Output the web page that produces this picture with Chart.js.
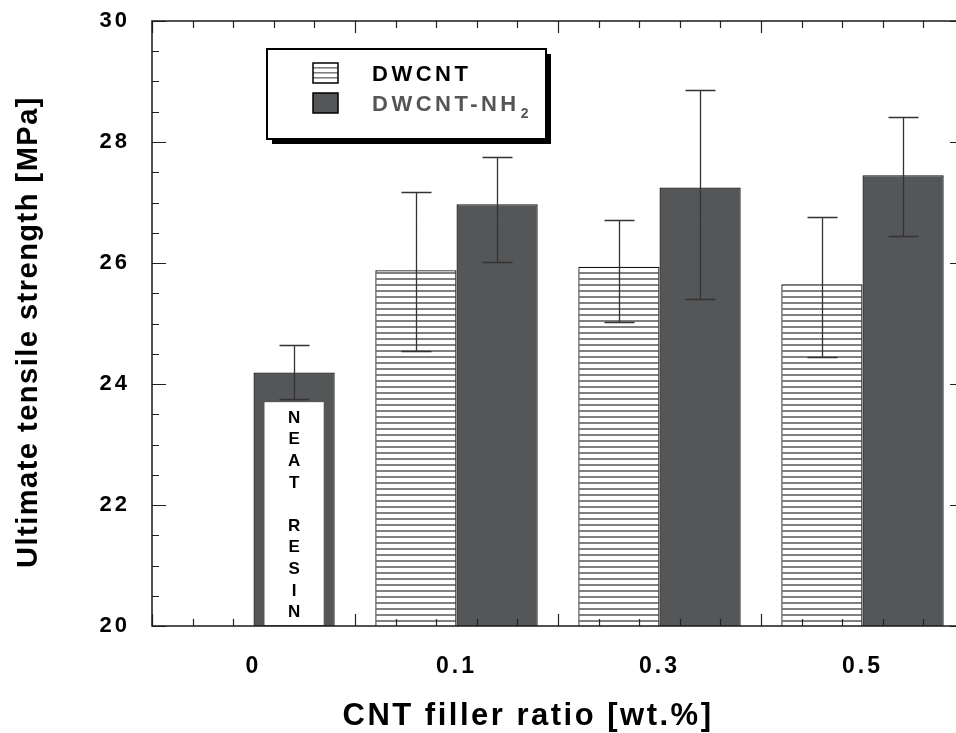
<!DOCTYPE html>
<html>
<head>
<meta charset="utf-8">
<title>Ultimate tensile strength</title>
<script src="https://cdn.jsdelivr.net/npm/chart.js@4.4.1/dist/chart.umd.min.js"></script>
<style>
  html, body { margin: 0; padding: 0; background: #fff; overflow: hidden; }
  #wrap { width: 956px; height: 733px; overflow: hidden; position: relative; }
  canvas { display: block; }
</style>
</head>
<body>
<div id="wrap"><canvas id="utsChart" width="970" height="733"></canvas></div>
<script>
// ===== Data =====
const fillerRatio = ['0', '0.1', '0.3', '0.5'];

const dwcnt      = [null, 25.88, 25.94, 25.65];
const dwcntLow   = [null, 24.55, 25.02, 24.45];
const dwcntHigh  = [null, 27.17, 26.71, 26.76];

// first value is the neat resin bar
const dwcntNH2     = [24.19, 26.97, 27.25, 27.45];
const dwcntNH2Low  = [23.76, 26.01, 25.40, 26.44];
const dwcntNH2High = [24.65, 27.76, 28.86, 28.42];

const yTicks = { min: 20, max: 30, step: 2, minor: 0.5 };
const xMinorPerSlot = 5;
const neatBoxTop = 23.7;
const neatText = 'NEAT RESIN';

const FONT = '"Liberation Sans", Arial, sans-serif';
const DARK = '#555658';

function hatchPattern() {
    const c = document.createElement('canvas');
    c.width = 8; c.height = 6;
    const g = c.getContext('2d');
    g.fillStyle = '#fff';
    g.fillRect(0, 0, 8, 6);
    g.fillStyle = '#808080';
    g.fillRect(0, 2, 8, 2);
    return g.createPattern(c, 'repeat');
}

// ticks inside the frame, error bars, neat resin label, legend, axis titles
const decorations = {
    id: 'decorations',
    beforeDraw(chart) {
        chart.ctx.letterSpacing = '3px';
    },
    afterDatasetsDraw(chart) {
        const { ctx, chartArea: a, scales: { x, y } } = chart;
        ctx.save();
        ctx.letterSpacing = '0px';

        // inward tick marks on all four sides
        ctx.strokeStyle = '#222';
        ctx.lineWidth = 1.2;
        ctx.beginPath();
        for (let v = yTicks.min; v <= yTicks.max + 1e-9; v += yTicks.minor) {
            const py = Math.round(y.getPixelForValue(v)) + 0.5;
            const len = Math.abs(v % yTicks.step) < 1e-6 ? 14 : 7;
            ctx.moveTo(a.left, py); ctx.lineTo(a.left + len, py);
            ctx.moveTo(a.right, py); ctx.lineTo(a.right - len, py);
        }
        const pitch = x.getPixelForValue(1) - x.getPixelForValue(0);
        const x0 = x.getPixelForValue(0) - pitch / 2;
        for (let k = 0; k <= fillerRatio.length * xMinorPerSlot; k++) {
            const px = Math.round(x0 + k * pitch / xMinorPerSlot) + 0.5;
            const len = k % xMinorPerSlot === 0 ? 12 : 7;
            ctx.moveTo(px, a.top); ctx.lineTo(px, a.top + len);
            ctx.moveTo(px, a.bottom); ctx.lineTo(px, a.bottom - len);
        }
        ctx.stroke();

        // white label box inside the neat resin bar
        const neat = chart.getDatasetMeta(1).data[0];
        const bTop = y.getPixelForValue(neatBoxTop);
        const bL = neat.x - neat.width / 2 + 11;
        const bR = neat.x + neat.width / 2 - 11;
        ctx.fillStyle = '#fff';
        ctx.fillRect(bL, bTop, bR - bL, a.bottom - 1 - bTop);
        ctx.fillStyle = '#000';
        ctx.font = 'bold 17px ' + FONT;
        ctx.textAlign = 'center';
        ctx.textBaseline = 'middle';
        [...neatText].forEach((ch, i) => {
            if (ch !== ' ') ctx.fillText(ch, neat.x, bTop + 16 + i * 21.6);
        });

        // error bars
        const errs = [[dwcntLow, dwcntHigh], [dwcntNH2Low, dwcntNH2High]];
        ctx.strokeStyle = '#333';
        ctx.lineWidth = 1.3;
        ctx.beginPath();
        errs.forEach(([lo, hi], d) => {
            chart.getDatasetMeta(d).data.forEach((bar, i) => {
                if (lo[i] == null) return;
                const cx = Math.round(bar.x) + 0.5;
                const yl = Math.round(y.getPixelForValue(lo[i])) + 0.5;
                const yh = Math.round(y.getPixelForValue(hi[i])) + 0.5;
                ctx.moveTo(cx, yl); ctx.lineTo(cx, yh);
                ctx.moveTo(cx - 15, yl); ctx.lineTo(cx + 15, yl);
                ctx.moveTo(cx - 15, yh); ctx.lineTo(cx + 15, yh);
            });
        });
        ctx.stroke();

        // frame
        ctx.strokeStyle = '#1a1a1a';
        ctx.lineWidth = 1.5;
        ctx.strokeRect(a.left, a.top, a.right - a.left, a.bottom - a.top);
        ctx.restore();
    },
    afterDraw(chart) {
        const { ctx } = chart;
        ctx.save();

        // legend box with drop shadow
        const L = { x: 267, y: 49, w: 279, h: 90 };
        ctx.fillStyle = '#000';
        ctx.fillRect(L.x + 5, L.y + 5, L.w, L.h);
        ctx.fillStyle = '#fff';
        ctx.fillRect(L.x, L.y, L.w, L.h);
        ctx.strokeStyle = '#000';
        ctx.lineWidth = 2;
        ctx.strokeRect(L.x, L.y, L.w, L.h);

        // swatches
        ctx.lineWidth = 1.5;
        ctx.fillStyle = '#fff';
        ctx.fillRect(313, 63, 25, 20);
        ctx.fillStyle = '#808080';
        [67, 72, 77].forEach(yy => ctx.fillRect(313, yy, 25, 1.6));
        ctx.strokeRect(313, 63, 25, 20);
        ctx.fillStyle = DARK;
        ctx.fillRect(313, 93, 25, 20);
        ctx.strokeRect(313, 93, 25, 20);

        ctx.textAlign = 'left';
        ctx.textBaseline = 'alphabetic';
        ctx.letterSpacing = '3.5px';
        ctx.font = 'bold 22px ' + FONT;
        ctx.fillStyle = '#000';
        ctx.fillText('DWCNT', 372, 81);
        ctx.fillStyle = '#555';
        ctx.fillText('DWCNT-NH', 372, 111);
        const w = ctx.measureText('DWCNT-NH').width;
        ctx.font = 'bold 14px ' + FONT;
        ctx.fillText('2', 372 + w + 1, 118);

        // axis titles
        ctx.fillStyle = '#000';
        ctx.textAlign = 'center';
        ctx.textBaseline = 'middle';
        ctx.letterSpacing = '2.5px';
        ctx.font = 'bold 31px ' + FONT;
        ctx.fillText('CNT filler ratio [wt.%]', 528, 716);

        ctx.translate(29, 332);
        ctx.rotate(-Math.PI / 2);
        ctx.letterSpacing = '1.5px';
        ctx.font = 'bold 29px ' + FONT;
        ctx.fillText('Ultimate tensile strength [MPa]', 0, 0);
        ctx.restore();
    }
};

new Chart(document.getElementById('utsChart'), {
    type: 'bar',
    data: {
        labels: fillerRatio,
        datasets: [
            { label: 'DWCNT', data: dwcnt, backgroundColor: hatchPattern(), borderColor: '#111', borderWidth: 1.3 },
            { label: 'DWCNT-NH2', data: dwcntNH2, backgroundColor: DARK, borderColor: '#111', borderWidth: 1.3 }
        ]
    },
    options: {
        responsive: false,
        animation: false,
        devicePixelRatio: 1,
        layout: { padding: { top: 21, right: 6, left: 0, bottom: 0 } },
        datasets: { bar: { categoryPercentage: 0.8, barPercentage: 1.0 } },
        plugins: { legend: { display: false }, tooltip: { enabled: false } },
        scales: {
            x: {
                grid: { display: false, drawTicks: false },
                border: { display: false },
                ticks: { color: '#000', font: { family: FONT, size: 23, weight: 'bold' }, padding: 27 },
                afterFit: s => { s.height = 107; s.paddingLeft = 0; s.paddingRight = 0; }
            },
            y: {
                min: yTicks.min, max: yTicks.max,
                grid: { display: false, drawTicks: false },
                border: { display: false },
                ticks: { stepSize: yTicks.step, color: '#000', font: { family: FONT, size: 22, weight: 'bold' }, padding: 22 },
                afterFit: s => { s.width = 152; s.paddingTop = 0; s.paddingBottom = 0; }
            }
        }
    },
    plugins: [decorations]
});
</script>
</body>
</html>
